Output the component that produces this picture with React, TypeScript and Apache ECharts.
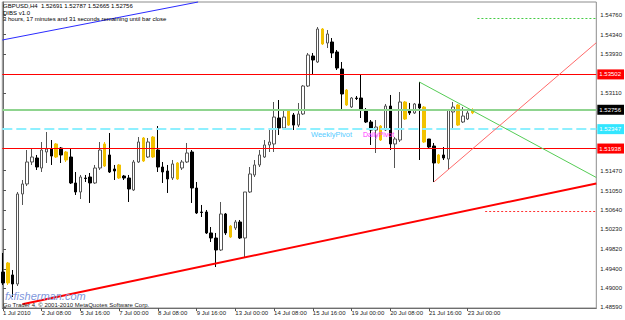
import React, { useEffect, useRef } from "react";
import * as echarts from "echarts";

// ---- data (GBPUSD, H4) ----
const xLabels = ["1 Jul 2010", "2 Jul 08:00", "5 Jul 16:00", "7 Jul 00:00", "8 Jul 08:00", "9 Jul 16:00", "13 Jul 00:00", "14 Jul 08:00", "15 Jul 16:00", "19 Jul 00:00", "20 Jul 08:00", "21 Jul 16:00", "23 Jul 00:00"];
const xLabelBars = [0, 8, 16, 24, 32, 40, 48, 56, 64, 72, 80, 88, 96];
const yTicks = [1.4859, 1.49, 1.494, 1.4982, 1.5023, 1.5064, 1.5105, 1.5147, 1.5311, 1.5393, 1.5434, 1.5476];

const opens = [
  1.49333, 1.49101, 1.4927, 1.4908, 1.50979, 1.5119, 1.51654, 1.51738, 1.51527, 1.51865,
  1.51928, 1.52034, 1.51949, 1.51865, 1.51759, 1.51211, 1.51021, 1.51316, 1.51337, 1.51211,
  1.51527, 1.51569, 1.51802, 1.51506, 1.51591, 1.51358, 1.51316, 1.51063, 1.51654, 1.51675,
  1.51759, 1.52181, 1.51907, 1.51548, 1.51464, 1.51316, 1.51633, 1.51527, 1.51654, 1.51865,
  1.51105, 1.50599, 1.50599, 1.50156, 1.5005, 1.49797, 1.50557, 1.50071, 1.50261, 1.50388,
  1.5005, 1.51021, 1.5138, 1.51591, 1.51759, 1.52013, 1.52034, 1.52582, 1.52371, 1.52433,
  1.52646, 1.52433, 1.52667, 1.53257, 1.5389, 1.53764, 1.5446, 1.54165, 1.54186, 1.53975,
  1.53616, 1.53173, 1.52814, 1.53004, 1.53004, 1.52751, 1.52498, 1.52329, 1.52118, 1.52329,
  1.52835, 1.52034, 1.52118, 1.5292, 1.52751, 1.52688, 1.52878, 1.52814, 1.52139, 1.51991,
  1.51633, 1.51802, 1.51717, 1.52709, 1.52857, 1.52498, 1.52561, 1.52691,
];
const closes = [
  1.49101, 1.49523, 1.4908, 1.50979, 1.5119, 1.51654, 1.51759, 1.51548, 1.51907, 1.51928,
  1.5178, 1.51759, 1.51802, 1.51696, 1.51211, 1.51021, 1.51337, 1.51306, 1.51211, 1.51527,
  1.51907, 1.52034, 1.51443, 1.51464, 1.51316, 1.51316, 1.51084, 1.51654, 1.52076, 1.5216,
  1.52076, 1.51759, 1.51548, 1.51443, 1.51295, 1.51612, 1.51295, 1.51654, 1.51844, 1.51105,
  1.50578, 1.50588, 1.50156, 1.5005, 1.49797, 1.50557, 1.50156, 1.50303, 1.50388, 1.5005,
  1.51021, 1.51401, 1.51591, 1.51802, 1.52013, 1.52076, 1.52603, 1.52371, 1.52603, 1.52751,
  1.52433, 1.52667, 1.53257, 1.53912, 1.53806, 1.5446, 1.54144, 1.54355, 1.53954, 1.53637,
  1.53089, 1.52857, 1.53004, 1.52994, 1.52751, 1.52498, 1.52329, 1.52392, 1.52413, 1.52835,
  1.52034, 1.52139, 1.5292, 1.52561, 1.52688, 1.52878, 1.52793, 1.52076, 1.5197, 1.51633,
  1.51802, 1.51738, 1.52751, 1.52814, 1.52433, 1.52624, 1.52688, 1.52756,
];
const lows = [
  1.49059, 1.49059, 1.48805, 1.49037, 1.50747, 1.51147, 1.51591, 1.51485, 1.51443, 1.51633,
  1.51591, 1.51738, 1.51633, 1.51654, 1.5119, 1.50958, 1.50873, 1.51232, 1.50789, 1.5119,
  1.51485, 1.51548, 1.51422, 1.51274, 1.51295, 1.51274, 1.5081, 1.51042, 1.51633, 1.51654,
  1.51738, 1.51738, 1.51443, 1.51211, 1.51, 1.51274, 1.51274, 1.51485, 1.51633, 1.50789,
  1.50557, 1.50493, 1.50135, 1.49966, 1.49438, 1.49776, 1.50114, 1.5005, 1.50219, 1.50029,
  1.49649, 1.51, 1.51337, 1.51548, 1.51738, 1.51865, 1.51865, 1.52224, 1.52329, 1.52413,
  1.52329, 1.52392, 1.52646, 1.53236, 1.5349, 1.53743, 1.54123, 1.54059, 1.53848, 1.53595,
  1.52751, 1.52835, 1.52793, 1.52962, 1.52582, 1.52477, 1.52013, 1.51844, 1.52097, 1.52308,
  1.51907, 1.51527, 1.52076, 1.5254, 1.52646, 1.52667, 1.51696, 1.52055, 1.51949, 1.51232,
  1.51612, 1.51696, 1.51485, 1.52329, 1.52413, 1.52477, 1.5254, 1.52665,
];
const highs = [
  1.49734, 1.49544, 1.49375, 1.51021, 1.51274, 1.51907, 1.51949, 1.51802, 1.52076, 1.52287,
  1.52118, 1.52055, 1.5197, 1.51886, 1.51949, 1.51443, 1.5138, 1.5138, 1.51422, 1.51591,
  1.52076, 1.52076, 1.52266, 1.51591, 1.51612, 1.5138, 1.5138, 1.51696, 1.52181, 1.52181,
  1.5216, 1.52202, 1.52413, 1.51654, 1.51591, 1.51696, 1.51654, 1.51696, 1.52055, 1.51907,
  1.51232, 1.50747, 1.50641, 1.50282, 1.50156, 1.5081, 1.50578, 1.50325, 1.5043, 1.5043,
  1.51021, 1.51548, 1.51696, 1.51907, 1.52118, 1.52329, 1.5292, 1.52962, 1.52751, 1.52772,
  1.52688, 1.52899, 1.53279, 1.53954, 1.53954, 1.54502, 1.54481, 1.54439, 1.5427, 1.54017,
  1.53764, 1.53194, 1.53025, 1.53046, 1.5349, 1.52793, 1.5254, 1.5254, 1.52433, 1.52878,
  1.53068, 1.52181, 1.53131, 1.52941, 1.52899, 1.52899, 1.53342, 1.52835, 1.52139, 1.52055,
  1.51823, 1.5197, 1.52751, 1.5292, 1.52878, 1.52814, 1.52751, 1.52787,
];
// bars painted yellow by the DIBS indicator
const insideBars = [1, 11, 13, 21, 24, 29, 31, 36, 47, 59, 66, 71, 78, 83, 87, 90, 94, 97];

// horizontal levels
const resistance = 1.53502;
const support = 1.51938;
const greenLevel = 1.5275;
const weeklyPivot = 1.52347;
const bid = 1.52756;
const targetLevel = 1.54692;
const stopLevel = 1.5061;
const targetFromBar = 98;
const stopFromBar = 99.6;

// trend lines [bar, price]
const blueLine = [[-0.14, 1.54228], [40.3, 1.5503]];
const supportTrend = [[4, 1.48654], [122.56, 1.51202]];
const greenTrend = [[86, 1.53342], [122.56, 1.51327]];
const redTrend = [[89, 1.51232], [122.56, 1.54171]];

const header = ["GBPUSD,H4  1.52691 1.52787 1.52665 1.52756", "DIBS v1.0", "3 hours, 17 minutes and 31 seconds remaining until bar close"];

const X_MIN = -0.14;
const X_MAX = 122.56;
const Y_MIN = 1.48573;
const Y_MAX = 1.5503;
const FONT = '"Liberation Sans", Arial, sans-serif';

function boxLabel(bg: string, text: string, color = "#ffffff") {
  return {
    show: true,
    position: "end",
    distance: 1,
    formatter: () => text,
    backgroundColor: bg,
    color,
    fontSize: 6,
    fontFamily: FONT,
    padding: [2, 3, 1, 2],
    lineHeight: 7,
    opacity: 1,
  };
}

function seg(pts: number[][], color: string, width: number, type: any = "solid", label: any = { show: false }) {
  return [
    { coord: pts[0], lineStyle: { color, width, type }, label },
    { coord: pts[1] },
  ];
}

function level(v: number, color: string, width: number, type: any = "solid", label: any = { show: false }) {
  return seg([[X_MIN, v], [X_MAX, v]], color, width, type, label);
}

export default function App() {
  const ref = useRef<HTMLDivElement>(null);
  useEffect(() => {
    if (!ref.current) return;
    const chart = echarts.init(ref.current, undefined, { renderer: "svg" });
    const yellow = "#f2c200";
    const candles = opens.map((o, i) => {
      const v = [i, o, closes[i], lows[i], highs[i]];
      if (insideBars.includes(i)) {
        return { value: v, itemStyle: { color: yellow, color0: yellow, borderColor: yellow, borderColor0: yellow } };
      }
      return { value: v };
    });

    const option: any = {
      animation: false,
      backgroundColor: "#ffffff",
      grid: { left: 2, right: 23, top: 2, bottom: 12, show: true, borderColor: "#8c8c8c", borderWidth: 1 },
      xAxis: {
        type: "value",
        min: X_MIN,
        max: X_MAX,
        axisLine: { show: true, lineStyle: { color: "#6e6e6e", width: 1 } },
        splitLine: { show: false },
        axisTick: { show: true, customValues: xLabelBars, length: 3, lineStyle: { color: "#555" } },
        axisLabel: {
          customValues: xLabelBars,
          formatter: (v: number) => xLabels[Math.round(v / 8)] ?? "",
          align: "left",
          fontSize: 6,
          fontFamily: FONT,
          color: "#222",
          margin: 2,
        },
      },
      yAxis: {
        type: "value",
        position: "right",
        min: Y_MIN,
        max: Y_MAX,
        axisLine: { show: true, lineStyle: { color: "#6e6e6e", width: 1 } },
        splitLine: { show: false },
        axisTick: { show: true, customValues: yTicks, length: 3, lineStyle: { color: "#555" } },
        axisLabel: {
          customValues: yTicks,
          formatter: (v: number) => v.toFixed(5),
          fontSize: 6,
          fontFamily: FONT,
          color: "#222",
          margin: 4,
        },
      },
      series: [
        {
          type: "line",
          data: [],
          z: 1,
          silent: true,
          markLine: {
            silent: true,
            symbol: ["none", "none"],
            label: { show: false },
            emphasis: { disabled: true },
            data: [
              level(resistance, "#ff0000", 1, "solid", boxLabel("#ff0000", resistance.toFixed(5))),
              level(support, "#ff0000", 1, "solid", boxLabel("#ff0000", support.toFixed(5))),
              level(greenLevel, "#8fd48f", 2),
              level(weeklyPivot, "#8ef0ff", 2, [10, 4], boxLabel("#33e6ff", weeklyPivot.toFixed(5))),
              level(bid, "rgba(0,0,0,0)", 1, "solid", boxLabel("#000000", bid.toFixed(5))),
              seg([[targetFromBar, targetLevel], [X_MAX, targetLevel]], "#44cc44", 1, [2, 2]),
              seg([[stopFromBar, stopLevel], [X_MAX, stopLevel]], "#ff3333", 1, [2, 2]),
              seg(blueLine, "#2b2bff", 1),
              seg(supportTrend, "#ff0000", 2),
              seg(greenTrend, "#55cc55", 1),
              seg(redTrend, "#ff6a6a", 1),
            ],
          },
        },
        {
          type: "candlestick",
          z: 2,
          silent: true,
          barWidth: 3,
          data: candles,
          itemStyle: { color: "#ffffff", color0: "#000000", borderColor: "#555555", borderColor0: "#000000", borderWidth: 1 },
        },
      ],
      graphic: [
        ...header.map((t, i) => ({
          type: "text",
          x: 3,
          y: 3 + i * 6.6,
          z: 10,
          style: { text: t, fill: "#000", fontSize: 6, fontFamily: FONT },
        })),
        { type: "text", x: 311, y: 130.5, z: 10, style: { text: "WeeklyPivot", fill: "#55ccff", fontSize: 7.5, fontFamily: FONT } },
        { type: "text", x: 363, y: 130.5, z: 10, style: { text: "DailyPivot", fill: "#ff33ff", fontSize: 7, fontFamily: FONT } },
        { type: "text", x: 5, y: 290, z: 10, style: { text: "fxfisherman.com", fill: "#7f97dd", fontSize: 11, fontStyle: "italic", fontFamily: FONT } },
        { type: "text", x: 3, y: 302, z: 10, style: { text: "Go Trader 4, © 2001-2010 MetaQuotes Software Corp.", fill: "#222", fontSize: 6, fontFamily: FONT } },
      ],
    };
    chart.setOption(option);
    return () => chart.dispose();
  }, []);
  return <div ref={ref} style={{ position: "absolute", left: 0, top: 0, width: 625, height: 320 }} />;
}
